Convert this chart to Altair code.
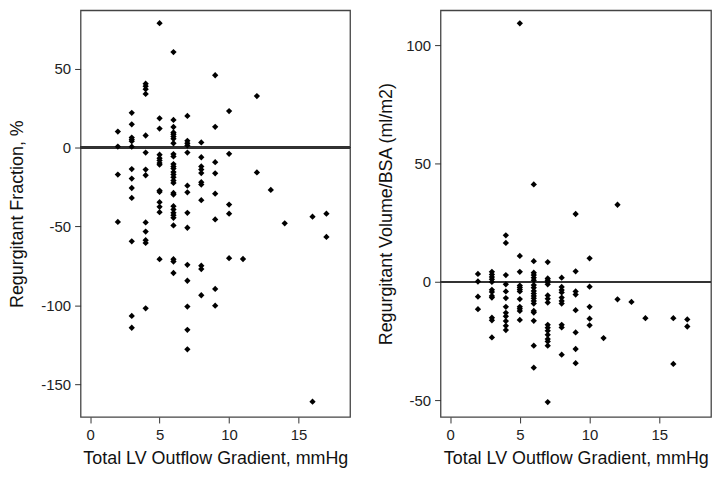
import altair as alt
import pandas as pd

# Left panel: Total LV outflow gradient (mmHg) vs regurgitant fraction (%)
gradient_left = (
    [2] * 4 + [3] * 13 + [4] * 13 + [5] * 14 + [6] * 29 + [7] * 14 + [8] * 11
    + [9] * 8 + [10] * 5 + [11] * 1 + [12] * 2 + [13] * 1 + [14] * 1 + [16] * 2 + [17] * 2
)
fraction_left = [
    10.1, 0.6, -17.2, -47.2,
    22, 14.7, 6.3, 5, 4, 0.5, -13.7, -19.7, -25.7, -32, -59.5, -106.8, -114.3,
    40.5, 38.9, 37, 34, 7.6, -3.2, -14, -17.6, -47.5, -53.3, -58.8, -60.5, -102,
    78.8, 18.5, 12, -4.6, -6.8, -8.2, -9.9, -10.9, -27.3, -28.2, -34.7, -37.6, -41, -70.8,
    60.5, 17.5, 13, 9.5, 8.4, 6.9, 5.5, 2.7, -4.2, -5.7, -10.5, -12, -13.4, -15.6, -17.2,
    -18.9, -21, -22.5, -28.8, -29.8, -37.2, -39.3, -41.4, -42.9, -44.6, -49.4, -70.8, -72.3, -79.6,
    20, 4.2, 2.7, 1.3, -3.2, -24.2, -28.4, -41.4, -50.9, -74.4, -84.5, -100.9, -115.6, -128,
    3.2, -6.2, -12, -14, -16.2, -22, -23.5, -33.4, -75, -77.1, -93.7,
    45.8, 13.1, -9.3, -16.4, -29.3, -45.6, -89.7, -100.3,
    23.1, -4, -36.2, -42, -70.2,
    -70.7,
    32.6, -15.8,
    -26.9,
    -48.1,
    -43.9, -161.2,
    -42, -56.7,
]

# Right panel: Total LV outflow gradient (mmHg) vs regurgitant volume / BSA (ml/m2)
gradient_right = (
    [2] * 4 + [3] * 12 + [4] * 12 + [5] * 12 + [6] * 19 + [7] * 16 + [8] * 10
    + [9] * 8 + [10] * 5 + [11] * 1 + [12] * 2 + [13] * 1 + [14] * 1 + [16] * 2 + [17] * 2
)
volume_right = [
    3.4, 0.2, -6.2, -11.5,
    4.3, 3.2, 2.1, 1.1, 0, -3.3, -4.2, -5.9, -6.6, -15.1, -16.2, -23.4,
    19.7, 16.5, 2.9, -1, -4, -6.8, -10.5, -13, -14.5, -16.5, -18.5, -20.3,
    109.2, 11, 4.3, -1.5, -2.3, -3.2, -4, -7.2, -10.5, -11.3, -12.2, -16,
    41.2, 8.8, 3.9, 2.9, 1.8, 0.7, -1.3, -2.4, -3.8, -4.9, -5.9, -6.9, -8, -9.1, -12.2,
    -12.9, -16.4, -26.9, -36.2,
    8.4, 1.5, 0.7, 0, -1, -5.7, -7.1, -8.7, -18.1, -19.3, -20.6, -22.3, -24.1, -25.1, -26.9, -50.7,
    1.8, -2.1, -3.4, -4.4, -6.6, -8, -9.1, -18.1, -19.2, -30.7,
    28.7, 4.5, -4, -5.3, -11.9, -21.3, -28.3, -34.3,
    10, -2, -10.5, -15.5, -18.3,
    -23.7,
    32.6, -7.3,
    -8.4,
    -15.3,
    -15.3, -34.6,
    -15.8, -18.8,
]

x_ticks = [0, 5, 10, 15]
left_y_ticks = [-150, -100, -50, 0, 50]
right_y_ticks = [-50, 0, 50, 100]

x_title = "Total LV Outflow Gradient, mmHg"
left_y_title = "Regurgitant Fraction, %"
right_y_title = "Regurgitant Volume/BSA (ml/m2)"

df_left = pd.DataFrame({"g": gradient_left, "v": fraction_left})
df_right = pd.DataFrame({"g": gradient_right, "v": volume_right})

X_DOMAIN = [-0.68, 18.7]


def panel(df, y_title, y_domain, y_ticks, width, y_title_pad):
    xenc = alt.X(
        "g:Q",
        scale=alt.Scale(domain=X_DOMAIN, nice=False, zero=False),
        axis=alt.Axis(values=x_ticks, title=x_title, labelPadding=5, titlePadding=7),
    )
    yenc = alt.Y(
        "v:Q",
        scale=alt.Scale(domain=y_domain, nice=False, zero=False),
        axis=alt.Axis(
            values=y_ticks,
            title=y_title,
            labelPadding=4,
            titlePadding=y_title_pad,
            labelExpr="'' + datum.value",
        ),
    )
    pts = (
        alt.Chart(df)
        .mark_point(shape="diamond", filled=True, size=40, color="#000000", opacity=1)
        .encode(x=xenc, y=yenc)
    )
    rule = (
        alt.Chart(df)
        .mark_rule(color="#333333", strokeWidth=1.3)
        .encode(y=alt.datum(0))
    )
    return alt.layer(rule, pts).properties(width=width, height=409)


left = panel(df_left, left_y_title, [-170.9, 87.0], left_y_ticks, 271, 14)
right = panel(df_right, right_y_title, [-57.0, 114.7], right_y_ticks, 272, 10)

chart = (
    alt.hconcat(left, right, spacing=25)
    .properties(
        padding={"left": 0, "top": 0, "right": 0, "bottom": 0},
        background="white",
    )
    .configure_view(stroke="#444444", strokeWidth=1.3)
    .configure_axis(
        domain=False,
        grid=False,
        tickSize=6,
        tickColor="#333333",
        labelFont="Liberation Sans",
        titleFont="Liberation Sans",
        labelFontSize=15,
        titleFontSize=18,
        titleFontWeight="normal",
        labelColor="#222222",
        titleColor="#111111",
    )
)

chart.save("out.html", embed_options={"renderer": "svg", "actions": False})
